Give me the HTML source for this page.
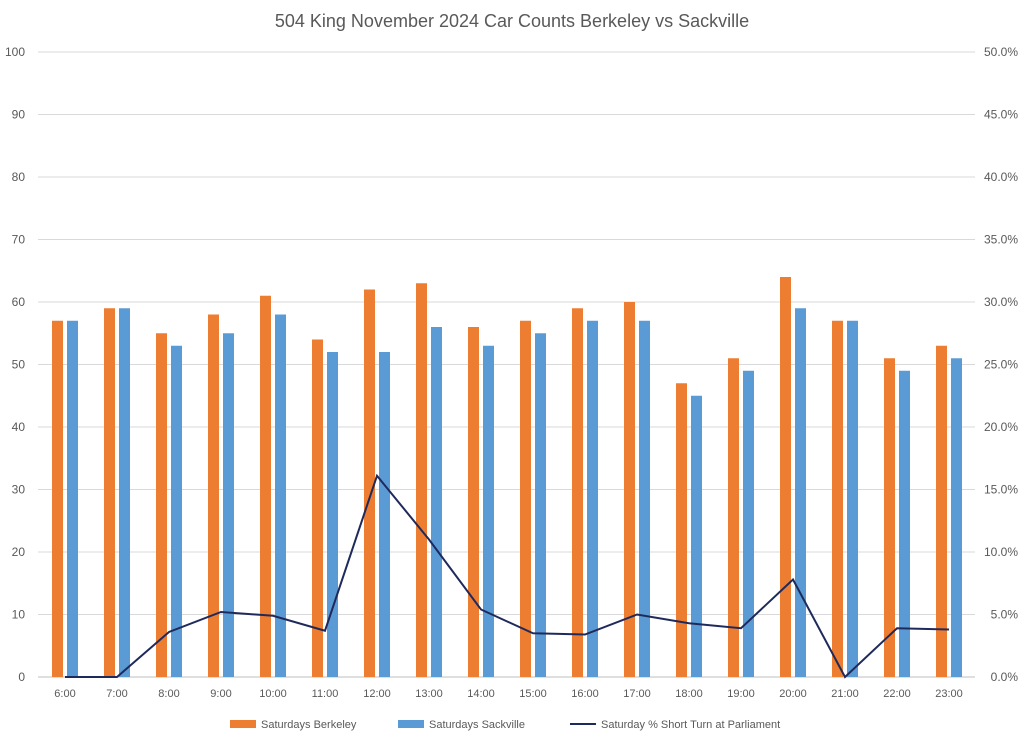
<!DOCTYPE html>
<html><head><meta charset="utf-8"><style>
body{margin:0;background:#fff;}
svg text{font-family:"Liberation Sans",sans-serif;}
</style></head><body>
<svg width="1024" height="733" viewBox="0 0 1024 733">
<text x="512" y="27" text-anchor="middle" font-size="18" fill="#595959">504 King November 2024 Car Counts Berkeley vs Sackville</text>
<g id="grid"></g><g id="bars"></g><g id="line"></g><g id="labels"></g>
<g>
<rect x="230" y="720" width="26" height="8" fill="#ED7D31"/>
<text x="261" y="728" font-size="11" fill="#595959">Saturdays Berkeley</text>
<rect x="398" y="720" width="26" height="8" fill="#5B9BD5"/>
<text x="429" y="728" font-size="11" fill="#595959">Saturdays Sackville</text>
<line x1="570" y1="724" x2="596" y2="724" stroke="#1F2A5C" stroke-width="2"/>
<text x="601" y="728" font-size="11" fill="#595959">Saturday % Short Turn at Parliament</text>
</g>
</svg>
<script>
const categories=["6:00","7:00","8:00","9:00","10:00","11:00","12:00","13:00","14:00","15:00","16:00","17:00","18:00","19:00","20:00","21:00","22:00","23:00"];
const berkeley=[57,59,55,58,61,54,62,63,56,57,59,60,47,51,64,57,51,53];
const sackville=[57,59,53,55,58,52,52,56,53,55,57,57,45,49,59,57,49,51];
const shortTurnPct=[0,0,3.6,5.2,4.9,3.7,16.1,11.0,5.4,3.5,3.4,5.0,4.3,3.9,7.8,0,3.9,3.8];
const leftTicks=[0,10,20,30,40,50,60,70,80,90,100];
const rightTicks=["0.0%","5.0%","10.0%","15.0%","20.0%","25.0%","30.0%","35.0%","40.0%","45.0%","50.0%"];
const NS="http://www.w3.org/2000/svg";
const y0=677,y1=52;
function yL(v){return y0-(v/100)*(y0-y1);}
function yR(p){return y0-(p/50)*(y0-y1);}
function xC(i){return 65+i*52;}
function mk(tag,attrs,parent){const e=document.createElementNS(NS,tag);for(const k in attrs)e.setAttribute(k,attrs[k]);document.getElementById(parent).appendChild(e);return e;}
leftTicks.forEach((t,i)=>{
 const g=mk("line",{x1:38,x2:975,y1:yL(t),y2:yL(t),stroke:i==0?"#BFBFBF":"#D9D9D9","stroke-width":1},"grid");
 
 
 const l=mk("text",{x:25,y:yL(t)+4,"text-anchor":"end","font-size":12,fill:"#595959"},"labels");
 l.textContent=t;
 
 
 const r=mk("text",{x:1018,y:yL(t)+4,"text-anchor":"end","font-size":12,fill:"#595959"},"labels");
 r.textContent=rightTicks[i];
 
 
});
categories.forEach((c,i)=>{
 const x=xC(i);
 const b=mk("rect",{x:x-13,y:yL(berkeley[i]),width:11,height:y0-yL(berkeley[i]),fill:"#ED7D31"},"bars");
 
 
 const s=mk("rect",{x:x+2,y:yL(sackville[i]),width:11,height:y0-yL(sackville[i]),fill:"#5B9BD5"},"bars");
 
 
 const t=mk("text",{x:x,y:697,"text-anchor":"middle","font-size":11,fill:"#595959"},"labels");
 t.textContent=c;
 
 
});
const pts=shortTurnPct.map((p,i)=>xC(i)+","+yR(p)).join(" ");
const pl=mk("polyline",{points:pts,fill:"none",stroke:"#1F2A5C","stroke-width":2},"line");


</script>
</body></html>
